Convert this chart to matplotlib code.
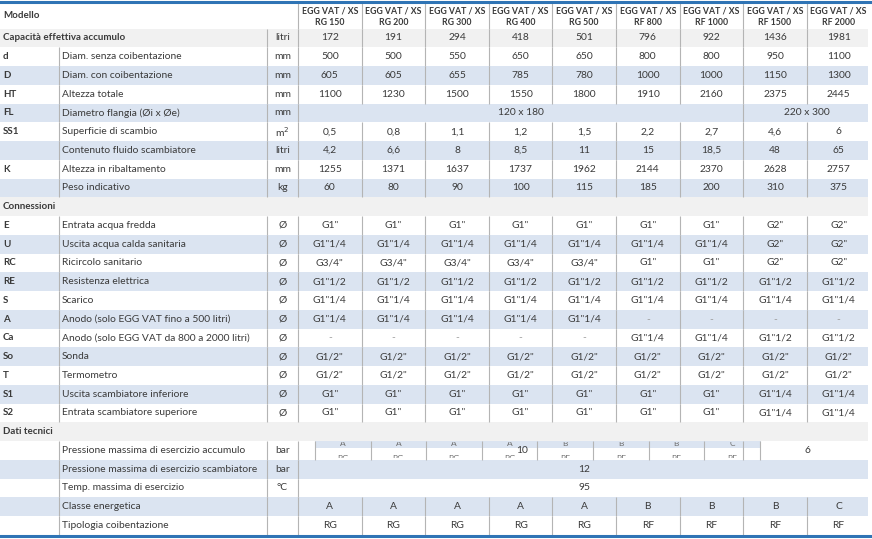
import matplotlib.pyplot as plt
from matplotlib.patches import Rectangle

# ---- DATA ----
models = ["RG 150", "RG 200", "RG 300", "RG 400", "RG 500",
          "RF 800", "RF 1000", "RF 1500", "RF 2000"]

capacita = ["172", "191", "294", "418", "501", "796", "922", "1436", "1981"]
diam_senza = ["500", "500", "550", "650", "650", "800", "800", "950", "1100"]
diam_con = ["605", "605", "655", "785", "780", "1000", "1000", "1150", "1300"]
altezza = ["1100", "1230", "1500", "1550", "1800", "1910", "2160", "2375", "2445"]
flangia = [("120 x 180", 0, 7), ("220 x 300", 7, 9)]
superficie = ["0,5", "0,8", "1,1", "1,2", "1,5", "2,2", "2,7", "4,6", "6"]
contenuto = ["4,2", "6,6", "8", "8,5", "11", "15", "18,5", "48", "65"]
ribaltamento = ["1255", "1371", "1637", "1737", "1962", "2144", "2370", "2628", "2757"]
peso = ["60", "80", "90", "100", "115", "185", "200", "310", "375"]

conn_E = ['G1"'] * 7 + ['G2"'] * 2
conn_U = ['G1"1/4'] * 7 + ['G2"'] * 2
conn_RC = ['G3/4"'] * 5 + ['G1"'] * 2 + ['G2"'] * 2
conn_RE = ['G1"1/2'] * 9
conn_S = ['G1"1/4'] * 9
conn_A = ['G1"1/4'] * 5 + ['-'] * 4
conn_Ca = ['-'] * 5 + ['G1"1/4'] * 2 + ['G1"1/2'] * 2
conn_So = ['G1/2"'] * 9
conn_T = ['G1/2"'] * 9
conn_S1 = ['G1"'] * 7 + ['G1"1/4'] * 2
conn_S2 = ['G1"'] * 7 + ['G1"1/4'] * 2

press_scamb = [("12", 0, 9)]
temp_max = [("95", 0, 9)]
classe = ["A", "A", "A", "A", "A", "B", "B", "B", "C"]
tipologia = ["RG", "RG", "RG", "RG", "RG", "RF", "RF", "RF", "RF"]

# garbled overlay in the "accumulo" pressure row
glitch_top = ["A", "A", "A", "A", "B", "B", "B", "C"]
glitch_bottom = ["RG", "RG", "RG", "RG", "RF", "RF", "RF", "RF"]

# (kind, code, label, unit, values, band)
rows = [
    ("section_cap", "", "Capacità effettiva accumulo", "litri", capacita, "gray"),
    ("data", "d", "Diam. senza coibentazione", "mm", diam_senza, "white"),
    ("data", "D", "Diam. con coibentazione", "mm", diam_con, "blue"),
    ("data", "HT", "Altezza totale", "mm", altezza, "white"),
    ("data", "FL", "Diametro flangia (Øi x Øe)", "mm", flangia, "blue"),
    ("data", "SS1", "Superficie di scambio", "m$^2$", superficie, "white"),
    ("data", "", "Contenuto fluido scambiatore", "litri", contenuto, "blue"),
    ("data", "K", "Altezza in ribaltamento", "mm", ribaltamento, "white"),
    ("data", "", "Peso indicativo", "kg", peso, "blue"),
    ("section", "", "Connessioni", "", None, "gray"),
    ("data", "E", "Entrata acqua fredda", "Ø", conn_E, "white"),
    ("data", "U", "Uscita acqua calda sanitaria", "Ø", conn_U, "blue"),
    ("data", "RC", "Ricircolo sanitario", "Ø", conn_RC, "white"),
    ("data", "RE", "Resistenza elettrica", "Ø", conn_RE, "blue"),
    ("data", "S", "Scarico", "Ø", conn_S, "white"),
    ("data", "A", "Anodo (solo EGG VAT fino a 500 litri)", "Ø", conn_A, "blue"),
    ("data", "Ca", "Anodo (solo EGG VAT da 800 a 2000 litri)", "Ø", conn_Ca, "white"),
    ("data", "So", "Sonda", "Ø", conn_So, "blue"),
    ("data", "T", "Termometro", "Ø", conn_T, "white"),
    ("data", "S1", "Uscita scambiatore inferiore", "Ø", conn_S1, "blue"),
    ("data", "S2", "Entrata scambiatore superiore", "Ø", conn_S2, "white"),
    ("section", "", "Dati tecnici", "", None, "gray"),
    ("glitch", "", "Pressione massima di esercizio accumulo", "bar", None, "white"),
    ("data", "", "Pressione massima di esercizio scambiatore", "bar", press_scamb, "blue"),
    ("data", "", "Temp. massima di esercizio", "°C", temp_max, "white"),
    ("data", "", "Classe energetica", "", classe, "blue"),
    ("data", "", "Tipologia coibentazione", "", tipologia, "white"),
]

# ---- LAYOUT ----
W, H = 872, 539
x_code, x_label, x_unit, x_data0 = 0, 59, 267, 298
col_w = 63.6
n_cols = len(models)
x_end = x_data0 + col_w * n_cols
header_top, header_bot = 3, 28.6
row_h = 18.75

band_colors = {"white": "#ffffff", "blue": "#dbe4f1", "gray": "#f1f1f1"}
line_col = "#b4b4b4"
txt_col = "#3a3a3a"
blue_line = "#2f74b5"

plt.rcParams['font.family'] = ['Lato', 'DejaVu Sans']
fs = 7.4      # regular text
fsb = 7.0     # bold text
fsh = 6.3     # header bold

fig = plt.figure(figsize=(W / 100, H / 100), dpi=100)
ax = fig.add_axes([0, 0, 1, 1])
ax.set_xlim(0, W)
ax.set_ylim(H, 0)
ax.axis('off')


def vline(x, y0, y1):
    ax.plot([x, x], [y0, y1], color=line_col, lw=0.8, solid_capstyle='butt')


# header
ax.text(3, 16, "Modello", fontsize=fsb, fontweight='bold', color=txt_col, va='center')
for j, m in enumerate(models):
    cx = x_data0 + col_w * (j + 0.5)
    ax.text(cx, 10.5, "EGG VAT / XS", fontsize=fsh, fontweight='bold',
            color=txt_col, ha='center', va='center')
    ax.text(cx, 22.5, m, fontsize=fsh, fontweight='bold',
            color=txt_col, ha='center', va='center')
for j in range(n_cols):
    vline(x_data0 + col_w * j, header_top, header_bot)

for i, (kind, code, label, unit, values, band) in enumerate(rows):
    y0 = header_bot + row_h * i
    y1 = y0 + row_h
    yc = (y0 + y1) / 2
    ax.add_patch(Rectangle((0, y0), x_end - 2, row_h, facecolor=band_colors[band],
                           edgecolor='none', zorder=0))
    if kind == "section":
        ax.text(3, yc, label, fontsize=fsb, fontweight='bold', color=txt_col, va='center')
        continue
    if kind == "section_cap":
        ax.text(3, yc, label, fontsize=fsb, fontweight='bold', color=txt_col, va='center')
    else:
        ax.text(3, yc, code, fontsize=fsb, fontweight='bold', color=txt_col, va='center')
        ax.text(x_label + 3, yc, label, fontsize=fs, color=txt_col, va='center')
        vline(x_label, y0, y1)
    ax.text((x_unit + x_data0) / 2, yc, unit, fontsize=fs, color=txt_col,
            ha='center', va='center')
    vline(x_unit, y0, y1)
    vline(x_data0, y0, y1)

    if kind == "glitch":
        gw = 55.6
        gx0 = 315
        ax.add_patch(Rectangle((gx0, y0), gw * 8 + 1, 6.5, facecolor=band_colors["blue"],
                               edgecolor='none', zorder=0.5))
        clip = Rectangle((0, y0 + 1.0), W, row_h - 2.6, transform=ax.transData)
        for k in range(8):
            cx = gx0 + gw * (k + 0.5)
            t1 = ax.text(cx, y0 + 2.6, glitch_top[k], fontsize=6, color="#707070",
                         ha='center', va='center', clip_on=True)
            t2 = ax.text(cx, y1 - 1.6, glitch_bottom[k], fontsize=6, color="#707070",
                         ha='center', va='center', clip_on=True)
            t1.set_clip_path(clip)
            t2.set_clip_path(clip)
        for k in range(9):
            vline(gx0 + gw * k, y0, y1)
        vline(x_data0 + col_w * 7, y0, y1)
        ax.text(522, yc, "10", fontsize=fs, color=txt_col, ha='center', va='center')
        ax.text(807, yc, "6", fontsize=fs, color=txt_col, ha='center', va='center')
        continue

    if isinstance(values[0], tuple):
        for text, a, b in values:
            cx = x_data0 + col_w * (a + b) / 2
            ax.text(cx, yc, text, fontsize=fs, color=txt_col, ha='center', va='center')
            if a > 0:
                vline(x_data0 + col_w * a, y0, y1)
    else:
        for j, v in enumerate(values):
            cx = x_data0 + col_w * (j + 0.5)
            c = "#9a9a9a" if v == "-" else txt_col
            ax.text(cx, yc, v, fontsize=fs, color=c, ha='center', va='center')
            if j > 0:
                vline(x_data0 + col_w * j, y0, y1)

y_bottom = header_bot + row_h * len(rows)
ax.plot([0, W], [1.8, 1.8], color=blue_line, lw=2.2)
ax.plot([0, W], [y_bottom + 0.8, y_bottom + 0.8], color=blue_line, lw=2.2)

fig.savefig("out.png", dpi=100)
